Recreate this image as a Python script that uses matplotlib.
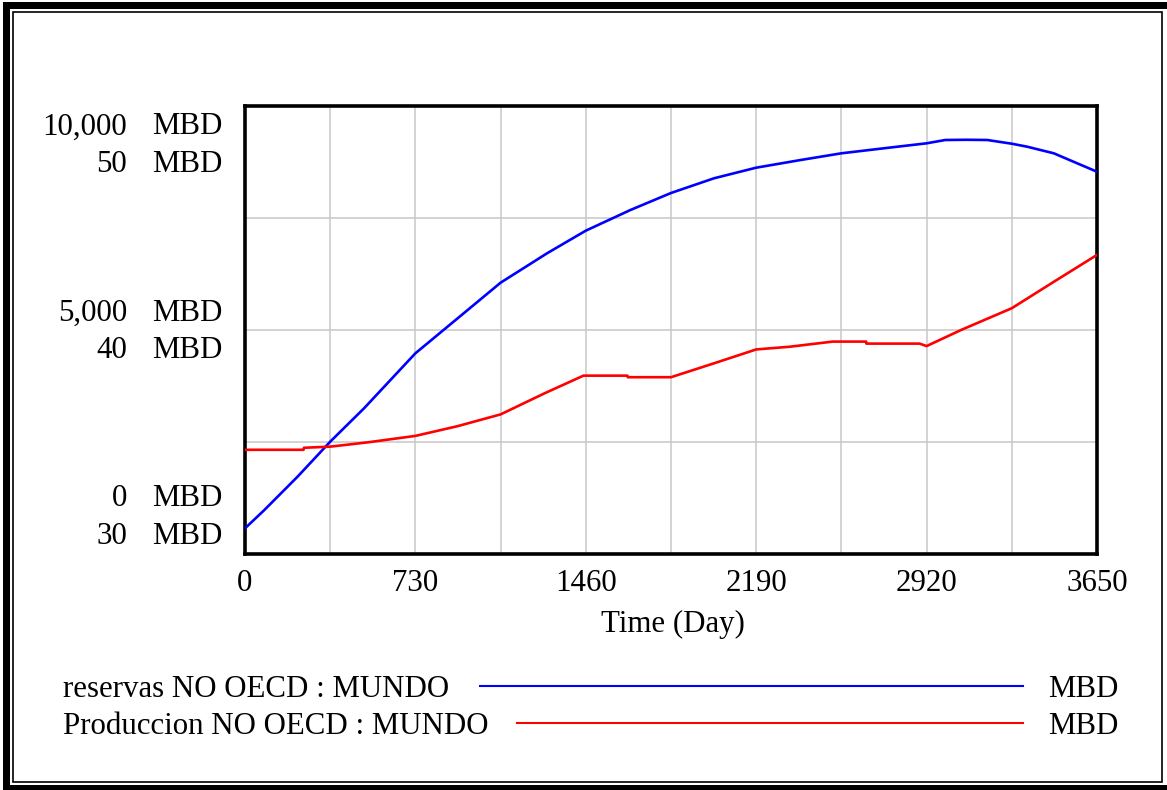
import matplotlib
matplotlib.use("Agg")
import matplotlib.pyplot as plt
from matplotlib.patches import Rectangle
from matplotlib.lines import Line2D

plt.rcParams['font.family'] = ['Liberation Serif', 'DejaVu Serif']

# ---------------- data ----------------
time_reservas = [0, 83, 225, 365, 510, 730, 937, 1095, 1294, 1460, 1651, 1825,
                 2009, 2190, 2380, 2555, 2737, 2920, 3000, 3089, 3180, 3285,
                 3351, 3465, 3565, 3650]
reservas = [562, 971, 1714, 2496, 3241, 4469, 5362, 6045, 6701, 7206, 7667, 8047,
            8375, 8612, 8783, 8933, 9045, 9156, 9230, 9235, 9230, 9147,
            9080, 8933, 8710, 8522]

time_produccion = [0, 251, 252, 365, 524, 730, 909, 1095, 1283, 1450, 1638, 1640,
                   1825, 2009, 2190, 2333, 2518, 2661, 2662, 2890, 2920, 3068,
                   3285, 3465, 3650]
produccion = [34.63, 34.63, 34.72, 34.77, 34.96, 35.25, 35.68, 36.21, 37.15, 37.94,
              37.94, 37.87, 37.87, 38.49, 39.11, 39.23, 39.46, 39.46, 39.37, 39.37,
              39.26, 39.98, 40.95, 42.13, 43.33]

x_ticks = [0, 730, 1460, 2190, 2920, 3650]
x_tick_labels = ["0", "730", "1460", "2190", "2920", "3650"]
x_minor = [365, 1095, 1825, 2555, 3285]
blue_range = (0, 10000)
red_range = (30, 50)
blue_labels = ["10,000", "5,000", "0"]
red_labels = ["50", "40", "30"]
unit = "MBD"
series_names = ["reservas NO OECD : MUNDO", "Produccion NO OECD : MUNDO"]
series_colors = ["#0000ff", "#ff0000"]

# ---------------- figure ----------------
W, H = 1167, 790
fig = plt.figure(figsize=(W / 100, H / 100), dpi=100)

def fx(x):
    return x / W

def fy(y):
    return 1 - y / H

FS = 22.2

ax = fig.add_axes([fx(245), fy(553.5), fx(1097) - fx(245), fy(105.5) - fy(553.5)])
ax.set_xlim(0, 3650)
ax.set_ylim(*blue_range)
ax.set_xticks(x_ticks)
ax.set_xticklabels(x_tick_labels, fontsize=FS)
ax.set_xticks(x_minor, minor=True)
ax.set_yticks([2500, 5000, 7500])
ax.set_yticklabels([])
ax.tick_params(axis='both', which='both', length=0)
ax.tick_params(axis='x', pad=11)
ax.grid(True, which='both', color='#c8c8c8', linewidth=1.1)
ax.set_axisbelow(True)
for s in ax.spines.values():
    s.set_linewidth(2.6)
    s.set_color('black')

ax.plot(time_reservas, reservas, color=series_colors[0], linewidth=1.9, zorder=3)

ax2 = ax.twinx()
ax2.set_ylim(*red_range)
ax2.set_yticks([])
for s in ax2.spines.values():
    s.set_visible(False)
ax2.plot(time_produccion, produccion, color=series_colors[1], linewidth=1.9, zorder=3)

# y-axis stacked labels (Vensim style)
baselines = [(134.5, 172.5), (321.2, 357.8), (506.2, 544.5)]
for (b1, b2), bl, rl in zip(baselines, blue_labels, red_labels):
    fig.text(fx(127), fy(b1), bl, ha='right', va='baseline', fontsize=FS)
    fig.text(fx(152), fy(b1), unit, ha='left', va='baseline', fontsize=FS)
    fig.text(fx(127), fy(b2), rl, ha='right', va='baseline', fontsize=FS)
    fig.text(fx(152), fy(b2), unit, ha='left', va='baseline', fontsize=FS)

fig.text(fx(672.5), fy(631.7), "Time (Day)", ha='center', va='baseline', fontsize=FS)

# legend
leg_rows = [(696.7, 685.7, 480), (734.3, 723.3, 517)]
for (base, ly, lx0), name, col in zip(leg_rows, series_names, series_colors):
    fig.text(fx(63), fy(base), name, ha='left', va='baseline', fontsize=FS)
    fig.add_artist(Line2D([fx(lx0), fx(1023)], [fy(ly), fy(ly)], color=col,
                          linewidth=1.5, transform=fig.transFigure))
    fig.text(fx(1047.7), fy(base), unit, ha='left', va='baseline', fontsize=FS)

# outer frame
for (x0, y0, x1, y1) in [(3, 2, 10, 790), (3, 2, 1167, 9), (3, 785, 1167, 790)]:
    fig.add_artist(Rectangle((fx(x0), fy(y1)), fx(x1) - fx(x0), fy(y0) - fy(y1),
                             transform=fig.transFigure, facecolor='black',
                             edgecolor='none'))
fig.add_artist(Rectangle((fx(13.3), fy(781.7)), fx(1161.7) - fx(13.3),
                         fy(12.3) - fy(781.7), transform=fig.transFigure,
                         facecolor='none', edgecolor='black', linewidth=1.2))

fig.savefig("out.png", dpi=100)
